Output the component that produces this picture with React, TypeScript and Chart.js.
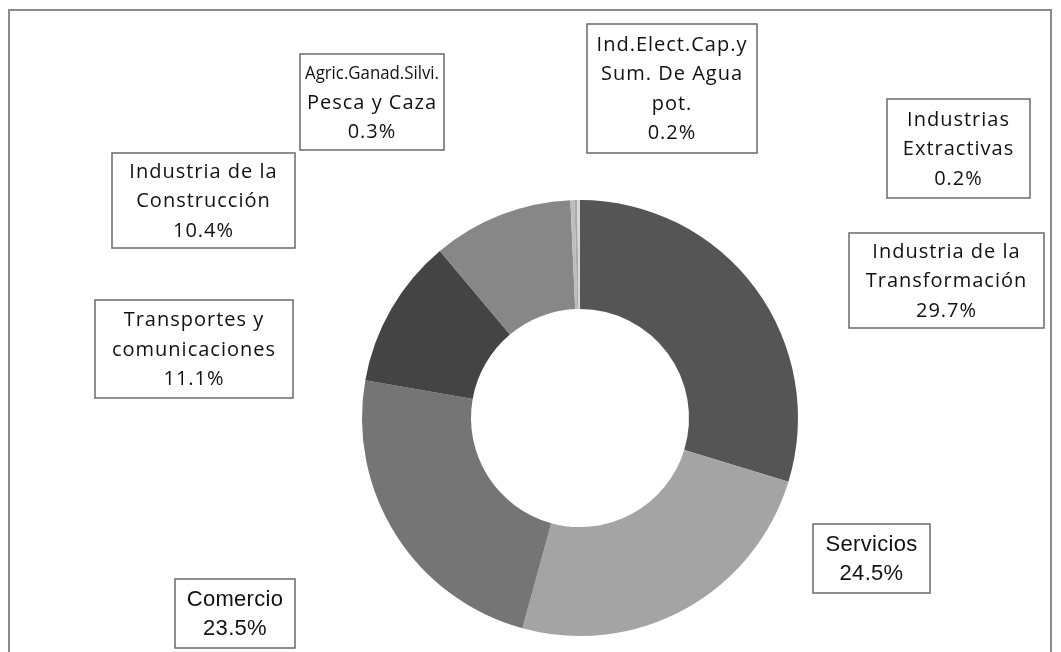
import React, { useEffect, useRef } from "react";
import { Chart, registerables } from "chart.js";

Chart.register(...registerables);

const categories: string[] = [
  "Industria de la Transformación",
  "Servicios",
  "Comercio",
  "Transportes y comunicaciones",
  "Industria de la Construcción",
  "Agric.Ganad.Silvi. Pesca y Caza",
  "Ind.Elect.Cap.y Sum. De Agua pot.",
  "Industrias Extractivas",
];
const values: number[] = [29.7, 24.5, 23.5, 11.1, 10.4, 0.3, 0.2, 0.2];
const labelLines: string[][] = [
  ["Industria de la", "Transformación"],
  ["Servicios"],
  ["Comercio"],
  ["Transportes y", "comunicaciones"],
  ["Industria de la", "Construcción"],
  ["Agric.Ganad.Silvi.", "Pesca y Caza"],
  ["Ind.Elect.Cap.y", "Sum. De Agua", "pot."],
  ["Industrias", "Extractivas"],
];

const sliceColors = ["#555555", "#a4a4a4", "#757575", "#444444", "#878787", "#bdbdbd", "#a8a8a8", "#d8d8d8"];

// label box layout: offset of box centre from doughnut centre, box size, font style
const labelBoxes = [
  { dx: 366.5, dy: -137.5, w: 195, h: 95, arial: false },
  { dx: 291.5, dy: 140.5, w: 117, h: 69, arial: true },
  { dx: -345, dy: 195.5, w: 120, h: 69, arial: true },
  { dx: -386, dy: -69, w: 198, h: 98, arial: false },
  { dx: -376.5, dy: -217.5, w: 183, h: 95, arial: false },
  { dx: -208, dy: -316, w: 144, h: 96, arial: false },
  { dx: 92, dy: -329.5, w: 170, h: 129, arial: false },
  { dx: 378.5, dy: -269.5, w: 143, h: 99, arial: false },
];

const W = 1045;
const H = 660;

const labelPlugin = {
  id: "boxLabels",
  afterDraw(chart: any) {
    const ctx = chart.ctx as CanvasRenderingContext2D;
    // frame
    ctx.save();
    ctx.strokeStyle = "#8c8c8c";
    ctx.lineWidth = 2;
    ctx.strokeRect(1, 2, W - 3, H + 20);
    ctx.restore();

    const meta = chart.getDatasetMeta(0);
    const arc0 = meta.data[0];
    if (!arc0) return;
    const cx = arc0.x;
    const cy = arc0.y;
    labelBoxes.forEach((b, i) => {
      const lines = [...labelLines[i], values[i].toFixed(1) + "%"];
      const bx = cx + b.dx;
      const by = cy + b.dy;
      ctx.save();
      ctx.fillStyle = "#ffffff";
      ctx.fillRect(bx - b.w / 2, by - b.h / 2, b.w, b.h);
      ctx.strokeStyle = "#6a6a6a";
      ctx.lineWidth = 1.5;
      ctx.strokeRect(bx - b.w / 2, by - b.h / 2, b.w, b.h);
      ctx.fillStyle = "#111111";
      ctx.textAlign = "center";
      ctx.textBaseline = "middle";
      const family = b.arial ? "'Liberation Sans', Arial, sans-serif" : "'Open Sans', sans-serif";
      const baseSize = b.arial ? 22 : 20;
      const spacing = b.arial ? "0.3px" : "1px";
      const lh = 29.5;
      const maxW = b.w - 10;
      const startY = by - ((lines.length - 1) * lh) / 2;
      lines.forEach((t, k) => {
        ctx.font = `${baseSize}px ${family}`;
        (ctx as any).letterSpacing = spacing;
        let wdt = ctx.measureText(t).width;
        if (wdt > maxW) {
          (ctx as any).letterSpacing = "0px";
          wdt = ctx.measureText(t).width;
          const scale = Math.max(0.9, maxW / wdt);
          ctx.font = `${(baseSize * scale).toFixed(1)}px ${family}`;
        }
        ctx.fillText(t, bx, startY + k * lh + 1, maxW);
      });
      ctx.restore();
    });
  },
};

export default function App() {
  const ref = useRef<HTMLCanvasElement | null>(null);
  useEffect(() => {
    if (!ref.current) return;
    const chart = new Chart(ref.current, {
      type: "doughnut",
      data: {
        labels: categories,
        datasets: [
          {
            data: values,
            backgroundColor: sliceColors,
            borderWidth: 0,
          },
        ],
      },
      options: {
        responsive: false,
        animation: false,
        cutout: "50%",
        layout: { padding: { left: 354, right: 255, top: 192, bottom: 32 } },
        plugins: {
          legend: { display: false },
          tooltip: { enabled: false },
        },
      },
      plugins: [labelPlugin],
    });
    return () => chart.destroy();
  }, []);
  return (
    <div style={{ width: W, height: H }}>
      <canvas ref={ref} width={W} height={H} style={{ display: "block", width: W, height: H }} />
    </div>
  );
}
